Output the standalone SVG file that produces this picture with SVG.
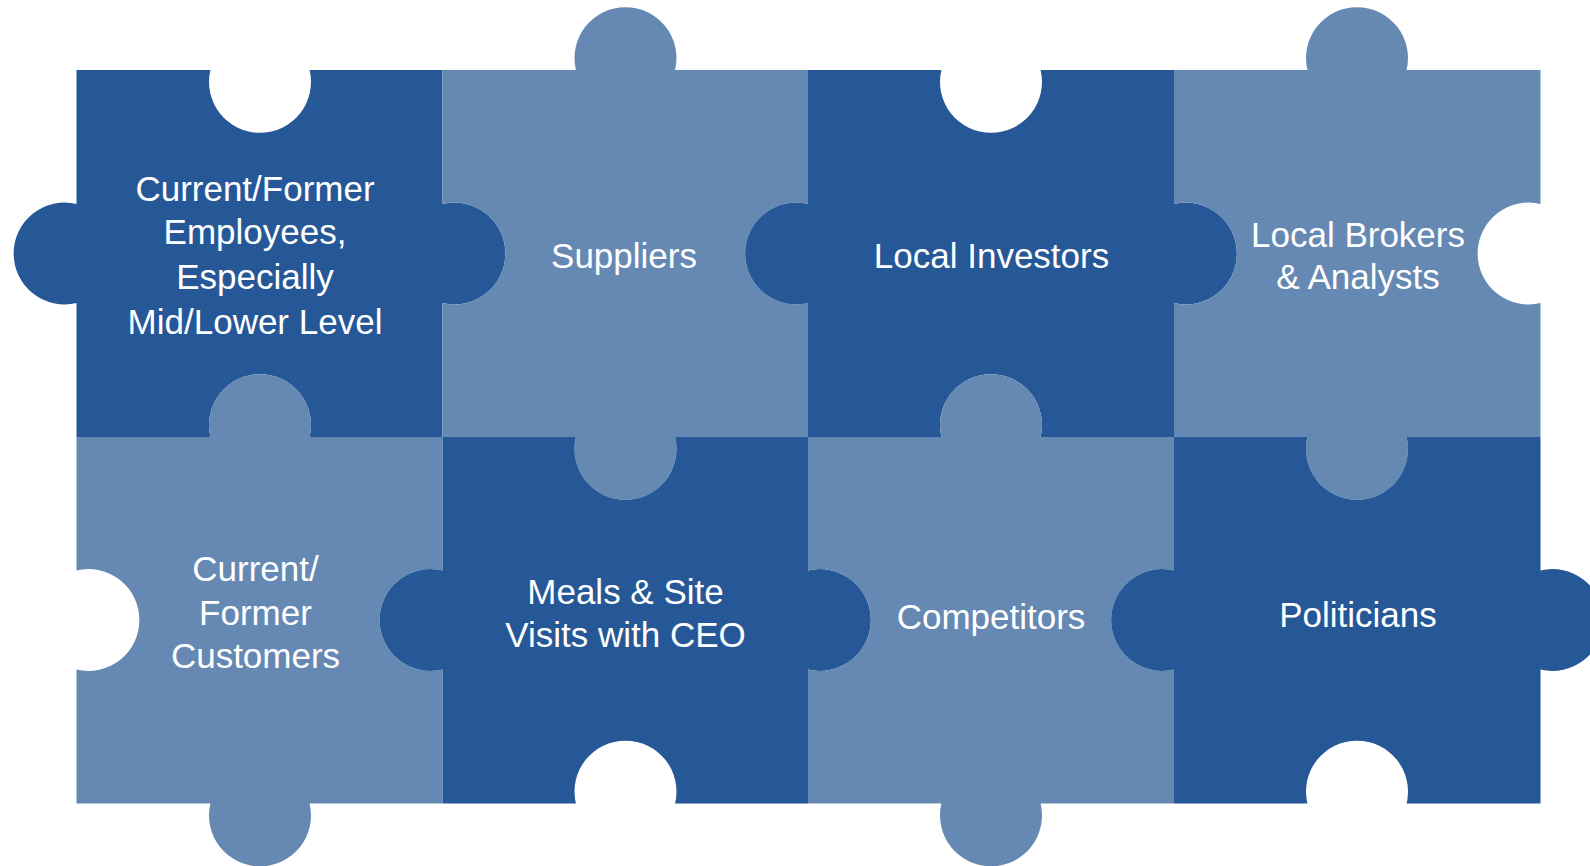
<svg xmlns="http://www.w3.org/2000/svg" width="1590" height="866" viewBox="0 0 1590 866">
  <style>
    .dark { fill: #265897; }
    .light { fill: #6589B3; }
    .label { font-family: "Liberation Sans", Arial, sans-serif; font-size: 35px; fill: #ffffff; text-anchor: middle; }
  </style>
  <rect width="1590" height="866" fill="#ffffff"/>

  <!-- top row -->
  <g id="piece-employees">
    <path class="dark" d="M76.5,70 H210.4 A51,51 0 1,0 309.6,70 H442.5 V203.9 A51,51 0 1,1 442.5,303.1 V437 H309.6 A51,51 0 1,0 210.4,437 H76.5 V303.1 A51,51 0 1,1 76.5,203.9 Z"/>
    <text class="label" x="255" y="201">Current/Former</text>
    <text class="label" x="255" y="244">Employees,</text>
    <text class="label" x="255" y="289">Especially</text>
    <text class="label" x="255" y="334">Mid/Lower Level</text>
  </g>

  <g id="piece-suppliers">
    <path class="light" d="M442.5,70 H575.9 A51,51 0 1,1 675.1,70 H808 V203.9 A51,51 0 1,0 808,303.1 V437 H675.1 A51,51 0 1,1 575.9,437 H442.5 V303.1 A51,51 0 1,0 442.5,203.9 Z"/>
    <text class="label" x="624" y="268">Suppliers</text>
  </g>

  <g id="piece-local-investors">
    <path class="dark" d="M808,70 H941.4 A51,51 0 1,0 1040.6,70 H1174 V203.9 A51,51 0 1,1 1174,303.1 V437 H1040.6 A51,51 0 1,0 941.4,437 H808 V303.1 A51,51 0 1,1 808,203.9 Z"/>
    <text class="label" x="991.5" y="268">Local Investors</text>
  </g>

  <g id="piece-brokers">
    <path class="light" d="M1174,70 H1307.4 A51,51 0 1,1 1406.6,70 H1540.5 V203.9 A51,51 0 1,0 1540.5,303.1 V437 H1406.6 A51,51 0 1,1 1307.4,437 H1174 V303.1 A51,51 0 1,0 1174,203.9 Z"/>
    <text class="label" x="1358" y="247">Local Brokers</text>
    <text class="label" x="1358" y="289">&amp; Analysts</text>
  </g>

  <!-- bottom row -->
  <g id="piece-customers">
    <path class="light" d="M76.5,437 H210.4 A51,51 0 1,1 309.6,437 H442.5 V570.4 A51,51 0 1,0 442.5,669.6 V803.5 H309.6 A51,51 0 1,1 210.4,803.5 H76.5 V669.6 A51,51 0 1,0 76.5,570.4 Z"/>
    <text class="label" x="255.5" y="581">Current/</text>
    <text class="label" x="255.5" y="624.5">Former</text>
    <text class="label" x="255.5" y="668">Customers</text>
  </g>

  <g id="piece-ceo-visits">
    <path class="dark" d="M442.5,437 H575.9 A51,51 0 1,0 675.1,437 H808 V570.4 A51,51 0 1,1 808,669.6 V803.5 H675.1 A51,51 0 1,0 575.9,803.5 H442.5 V669.6 A51,51 0 1,1 442.5,570.4 Z"/>
    <text class="label" x="625.5" y="604">Meals &amp; Site</text>
    <text class="label" x="625.5" y="647">Visits with CEO</text>
  </g>

  <g id="piece-competitors">
    <path class="light" d="M808,437 H941.4 A51,51 0 1,1 1040.6,437 H1174 V570.4 A51,51 0 1,0 1174,669.6 V803.5 H1040.6 A51,51 0 1,1 941.4,803.5 H808 V669.6 A51,51 0 1,0 808,570.4 Z"/>
    <text class="label" x="991" y="629">Competitors</text>
  </g>

  <g id="piece-politicians">
    <path class="dark" d="M1174,437 H1307.4 A51,51 0 1,0 1406.6,437 H1540.5 V570.4 A51,51 0 1,1 1540.5,669.6 V803.5 H1406.6 A51,51 0 1,0 1307.4,803.5 H1174 V669.6 A51,51 0 1,1 1174,570.4 Z"/>
    <text class="label" x="1358" y="627">Politicians</text>
  </g>

  <!-- pieces interlock directly; no separate connectors -->
  <g id="connectors"/>
</svg>
